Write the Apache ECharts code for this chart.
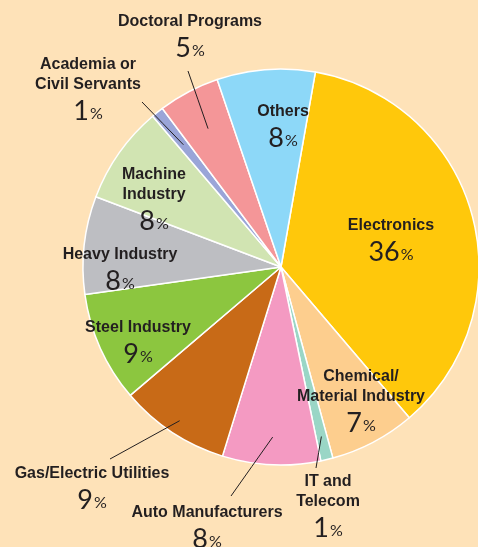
<!DOCTYPE html>
<html>
<head>
<meta charset="utf-8">
<script src="https://cdn.jsdelivr.net/npm/echarts@6/dist/echarts.min.js"></script>
<style>
  html, body { margin: 0; padding: 0; background: #FEE2B8; }
  #chart { width: 478px; height: 547px; }
</style>
</head>
<body>
<div id="chart"></div>
<script>
// Where graduates went, by sector (share in %), clockwise from the top
const sectors = [
  'Electronics',
  'Chemical/\nMaterial Industry',
  'IT and\nTelecom',
  'Auto Manufacturers',
  'Gas/Electric Utilities',
  'Steel Industry',
  'Heavy Industry',
  'Machine\nIndustry',
  'Academia or\nCivil Servants',
  'Doctoral Programs',
  'Others'
];
const shares = [36, 7, 1, 8, 9, 9, 8, 8, 1, 5, 8];

// Slice fills, same order as the sectors
const palette = ['#FFC80B', '#FDCE8E', '#9AD6C6', '#F49AC2', '#C86A17', '#8CC63F',
                 '#BDBEC2', '#D1E4B2', '#9AA5D8', '#F49698', '#8DD8F8'];

const CENTER = [281, 267];
const RADIUS = 198;
const START_ANGLE = 80;   // degrees, counter-clockwise from 3 o'clock

// Label centres; "from" is where a leader line leaves the text, "f" is how far
// into the slice (fraction of radius) the line reaches.
const placement = [
  { x: 391, y: 242 },
  { x: 361, y: 403 },
  { x: 328, y: 508, from: [316, 468], f: 0.88 },
  { x: 207, y: 529, from: [231, 496], f: 0.86 },
  { x: 92,  y: 490, from: [110, 459], f: 0.93 },
  { x: 138, y: 344 },
  { x: 120, y: 271 },
  { x: 154, y: 201 },
  { x: 88,  y: 91,  from: [142, 102], f: 0.79 },
  { x: 190, y: 38,  from: [188, 71],  f: 0.79 },
  { x: 283, y: 128 }
];

const total = shares.reduce((a, b) => a + b, 0);
// mid angle of each slice, clockwise from 12 o'clock
const midAngles = [];
let acc = 0;
shares.forEach(v => {
  midAngles.push((90 - START_ANGLE) + 360 * (acc + v / 2) / total);
  acc += v;
});

function pointInSlice(i, frac) {
  const t = midAngles[i] * Math.PI / 180;
  const r = RADIUS * frac;
  return [CENTER[0] + r * Math.sin(t), CENTER[1] - r * Math.cos(t)];
}

const TEXT = '#231F20';

const pieBase = {
  type: 'pie',
  center: CENTER,
  radius: RADIUS,
  startAngle: START_ANGLE,
  clockwise: true,
  avoidLabelOverlap: false,
  emphasis: { disabled: true },
  silent: true
};

const chart = echarts.init(document.getElementById('chart'), null, { renderer: 'canvas' });

chart.setOption({
  backgroundColor: '#FEE2B8',
  animation: false,
  series: [
    // the slices
    Object.assign({}, pieBase, {
      z: 2,
      itemStyle: { borderColor: '#FFFFFF', borderWidth: 1.5 },
      label: { show: false },
      labelLine: { show: false },
      data: sectors.map((name, i) => ({
        name: name, value: shares[i], itemStyle: { color: palette[i] }
      }))
    }),
    // labels and leader lines, layered above the slices
    Object.assign({}, pieBase, {
      z: 3,
      itemStyle: { color: 'rgba(0,0,0,0)', borderWidth: 0 },
      label: {
        show: true,
        position: 'outside',
        color: TEXT,
        formatter: p => p.name.split('\n').map(s => '{n|' + s + '}').join('\n') +
                        '\n{v|' + p.value + '}{p|%}',
        rich: {
          n: { fontFamily: '"Liberation Sans", Arial, sans-serif', fontWeight: 'bold',
               fontSize: 16, lineHeight: 20, color: TEXT, align: 'center' },
          v: { fontFamily: 'Lato, "Open Sans", sans-serif', fontSize: 27, lineHeight: 32, color: TEXT },
          p: { fontFamily: 'Lato, "Open Sans", sans-serif', fontSize: 16, lineHeight: 32, color: TEXT,
               padding: [6, 0, 0, 1] }
        }
      },
      labelLine: { show: true, smooth: false, lineStyle: { color: TEXT, width: 1 } },
      labelLayout: params => {
        const i = params.dataIndex;
        const pl = placement[i];
        const out = { x: pl.x, y: pl.y, align: 'center', verticalAlign: 'middle' };
        if (pl.from) {
          const inner = pointInSlice(i, pl.f);
          out.labelLinePoints = [pl.from,
            [(pl.from[0] + inner[0]) / 2, (pl.from[1] + inner[1]) / 2], inner];
        }
        return out;
      },
      data: sectors.map((name, i) => ({
        name: name,
        value: shares[i],
        labelLine: { show: !!placement[i].from }
      }))
    })
  ]
});
</script>
</body>
</html>
